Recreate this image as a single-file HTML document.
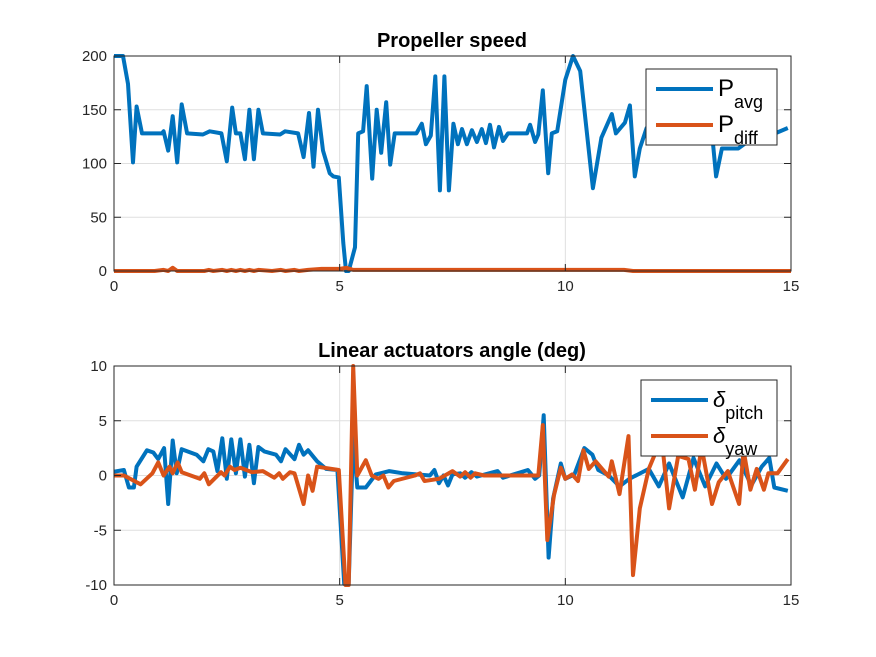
<!DOCTYPE html>
<html><head><meta charset="utf-8"><style>
body{margin:0;background:#fff}
svg{display:block;font-family:"Liberation Sans",Arial,sans-serif}
</style></head><body>
<svg id="fig" width="876" height="657"></svg>
<script>
const xTicks=[0,5,10,15];
const topYTicks=[0,50,100,150,200];
const botYTicks=[-10,-5,0,5,10];
const pavgT=[0,0.2,0.31,0.42,0.5,0.62,1.06,1.1,1.2,1.3,1.4,1.5,1.62,1.97,2.12,2.38,2.5,2.62,2.7,2.8,2.9,3.0,3.1,3.2,3.3,3.68,3.79,4.08,4.2,4.32,4.42,4.52,4.63,4.78,4.86,4.98,5.08,5.14,5.2,5.34,5.41,5.52,5.6,5.72,5.82,5.92,6.03,6.12,6.22,6.7,6.82,6.91,7.02,7.12,7.22,7.32,7.42,7.52,7.62,7.71,7.82,7.93,8.04,8.15,8.24,8.33,8.42,8.53,8.62,8.73,9.15,9.22,9.33,9.4,9.5,9.62,9.7,9.82,10.0,10.17,10.33,10.61,10.8,11.03,11.12,11.32,11.43,11.54,11.65,11.8,12.1,12.5,12.9,13.2,13.34,13.47,13.83,14.1,14.53,14.93];
const pavgV=[200,200,174,101,153,128,128,130,112,144,101,155,128,127,130,128,102,152,128,128,104,150,104,150,128,127,130,128,106,147,97,150,112,91,88,87,26,0,0,22,128,130,172,86,150,110,157,99,128,128,137,118,126,181,75,181,75,137,118,132,118,131,120,132,119,136,115,134,121,128,128,136,120,127,168,91,128,130,178,200,186,77,124,146,128,138,154,88,114,133,128,126,130,150,88,114,114,122,126,133];
const pdiffT=[0,0.3,0.6,0.9,1.1,1.2,1.3,1.4,1.6,2.0,2.1,2.2,2.4,2.5,2.6,2.7,2.8,2.9,3.0,3.1,3.2,3.5,3.7,3.8,4.0,4.1,4.3,4.6,5.0,5.15,5.3,7,9,11.3,11.5,11.7,13,15];
const pdiffV=[-1,-2,-1,-1,1,-1,3,0,0,-1,1,-1,1,-1,1,-1,1,-1,1,-1,1,-1,1,0,1,0,1,2,2,3,1,1,1,1,-2,0,0,0];
const pitchT=[0,0.22,0.33,0.44,0.5,0.73,0.87,0.98,1.11,1.2,1.3,1.39,1.5,1.83,1.98,2.09,2.2,2.29,2.4,2.5,2.6,2.7,2.8,2.9,3.0,3.1,3.2,3.33,3.59,3.7,3.8,4.0,4.1,4.2,4.3,4.5,4.7,4.95,5.1,5.2,5.3,5.39,5.58,5.8,6.1,6.4,7.0,7.1,7.2,7.3,7.4,7.5,7.67,7.78,7.92,8.04,8.5,8.62,9.17,9.33,9.42,9.52,9.63,9.73,9.9,10.0,10.2,10.42,10.6,10.73,10.96,11.2,11.42,11.85,12.07,12.3,12.6,12.84,13.1,13.35,13.56,13.86,14.12,14.35,14.52,14.63,14.93];
const pitchV=[0.35,0.5,-1.1,-1.1,0.8,2.3,2.1,1.5,2.5,-2.6,3.2,0.2,2.4,1.9,1.3,2.4,2.2,0.4,3.4,-0.3,3.3,0.2,3.3,-0.1,2.8,-0.7,2.6,2.2,1.9,1.3,2.4,1.5,2.8,1.9,2.3,1.3,0.6,0.5,-9.9,-9.9,3.5,-1.1,-1.1,0.1,0.4,0.2,0,0.5,-0.7,0,-0.9,0.1,0.2,-0.2,0.3,-0.1,0.4,-0.2,0.5,-0.3,0,5.5,-7.5,-2.1,1.1,-0.3,0.1,2.5,1.9,0.5,0,-1.0,-0.3,0.6,-1,1.1,-2.0,1.6,-1,1.1,-0.3,1.4,-0.9,0.8,1.6,-1.1,-1.4];
const yawT=[0,0.22,0.59,0.85,0.98,1.1,1.23,1.3,1.41,1.5,1.9,2.0,2.1,2.37,2.45,2.57,2.67,2.8,3.06,3.3,3.55,3.66,3.74,3.9,4.0,4.2,4.3,4.4,4.5,4.98,5.13,5.2,5.3,5.39,5.58,5.71,5.86,5.97,6.08,6.2,6.67,6.78,6.88,7.2,7.5,7.67,7.78,7.9,8.0,8.2,9.2,9.4,9.5,9.6,9.75,9.9,10.0,10.15,10.28,10.4,10.52,10.67,10.96,11.03,11.2,11.4,11.5,11.65,11.85,12.0,12.15,12.3,12.5,12.73,12.87,13.02,13.25,13.4,13.6,13.85,13.95,14.1,14.24,14.4,14.5,14.7,14.93];
const yawV=[0,0,-0.8,0.2,1.2,0,0.8,0.2,1.2,0.3,-0.3,0.2,-0.8,0.3,0,0.8,0.5,0.7,0.3,0.4,-0.2,0.2,-0.3,0.3,0.2,-2.6,0,-1.4,0.8,0.5,-10,-10,10,0,1.4,0,-0.3,0,-1.1,-0.5,0,0.2,-0.5,-0.3,0.4,-0.1,0.3,-0.2,0.2,0,0,0,4.6,-5.9,-1.8,0.7,-0.3,0.1,-0.5,2.3,0.6,1.3,-0.1,1.3,-1.7,3.6,-9.1,-3,0.6,2.1,2.7,-3,1.8,1.5,-1.3,2.6,-2.6,-0.6,0.4,-2.6,2.3,-1.3,0.6,-1.3,0.2,0.2,1.5];

const NS='http://www.w3.org/2000/svg';
const svg=document.getElementById('fig');
function mk(tag,at,parent){const e=document.createElementNS(NS,tag);for(const k in at)e.setAttribute(k,at[k]);(parent||svg).appendChild(e);return e;}
const X0=114,X1=791;
function xs(t){return X0+(t-0)/(15-0)*(X1-X0);}
function panel(name,y0,y1,ymin,ymax,yt,title,series,leg){
  const g=mk('g',{});
  
  
  const ys=v=>y1-(v-ymin)/(ymax-ymin)*(y1-y0);
  mk('rect',{x:X0,y:y0,width:X1-X0,height:y1-y0,fill:'#fff'},g);
  xTicks.forEach(t=>{if(t>0&&t<15){const l=mk('line',{x1:xs(t),x2:xs(t),y1:y0,y2:y1,stroke:'#dfdfdf','stroke-width':1},g);}});
  yt.forEach(v=>{if(v>ymin&&v<ymax){const l=mk('line',{x1:X0,x2:X1,y1:ys(v),y2:ys(v),stroke:'#dfdfdf','stroke-width':1},g);}});
  series.forEach(s=>{
    const pts=s.t.map((t,i)=>xs(t).toFixed(1)+','+ys(Math.max(ymin,Math.min(ymax,s.v[i]))).toFixed(1)).join(' ');
    const p=mk('polyline',{points:pts,fill:'none',stroke:s.c,'stroke-width':4,'stroke-linejoin':'round'},g);
    
    
  });
  mk('rect',{x:X0,y:y0,width:X1-X0,height:y1-y0,fill:'none',stroke:'#262626','stroke-width':1},g);
  xTicks.forEach(t=>{
    mk('line',{x1:xs(t),x2:xs(t),y1:y1,y2:y1-7,stroke:'#262626'},g);
    mk('line',{x1:xs(t),x2:xs(t),y1:y0,y2:y0+7,stroke:'#262626'},g);
    const tx=mk('text',{x:xs(t),y:y1+20,'text-anchor':'middle','font-size':15,fill:'#262626'},g);
    tx.textContent=t;
    
    
  });
  yt.forEach(v=>{
    mk('line',{x1:X0,x2:X0+7,y1:ys(v),y2:ys(v),stroke:'#262626'},g);
    mk('line',{x1:X1,x2:X1-7,y1:ys(v),y2:ys(v),stroke:'#262626'},g);
    const tx=mk('text',{x:X0-7,y:ys(v)+5,'text-anchor':'end','font-size':15,fill:'#262626'},g);
    tx.textContent=v;
    
    
  });
  const tt=mk('text',{x:452,y:y0-9,'text-anchor':'middle','font-size':20,'font-weight':'bold',fill:'#000'},g);
  tt.textContent=title;
  
  
  const lg=mk('g',{},g);
  
  
  mk('rect',{x:leg.x,y:leg.y,width:leg.w,height:76,fill:'#fff',stroke:'#262626'},lg);
  leg.items.forEach((it,i)=>{
    const yy=leg.y+20+i*36;
    mk('line',{x1:leg.x+10,x2:leg.x+67,y1:yy,y2:yy,stroke:it.c,'stroke-width':4},lg);
    const tx=mk('text',{x:leg.x+72,y:yy+7,'font-size':it.italic?22:24,'font-style':it.italic?'italic':'normal',fill:'#000'},lg);
    tx.textContent=it.base;
    const sub=mk('tspan',{dy:12,'font-size':18,'font-style':'normal'},tx);
    sub.textContent=it.sub;
    
    
  });
}
panel('propeller-speed-axes',56,271,0,200,topYTicks,'Propeller speed',
  [{t:pavgT,v:pavgV,c:'#0072BD',n:'p-avg-line'},{t:pdiffT,v:pdiffV,c:'#D95319',n:'p-diff-line'}],
  {x:646,y:69,w:131,items:[{c:'#0072BD',base:'P',sub:'avg'},{c:'#D95319',base:'P',sub:'diff'}]});
panel('actuator-angle-axes',366,585,-10,10,botYTicks,'Linear actuators angle (deg)',
  [{t:pitchT,v:pitchV,c:'#0072BD',n:'delta-pitch-line'},{t:yawT,v:yawV,c:'#D95319',n:'delta-yaw-line'}],
  {x:641,y:380,w:136,items:[{c:'#0072BD',base:'δ',sub:'pitch',italic:true},{c:'#D95319',base:'δ',sub:'yaw',italic:true}]});
</script>
</body></html>
